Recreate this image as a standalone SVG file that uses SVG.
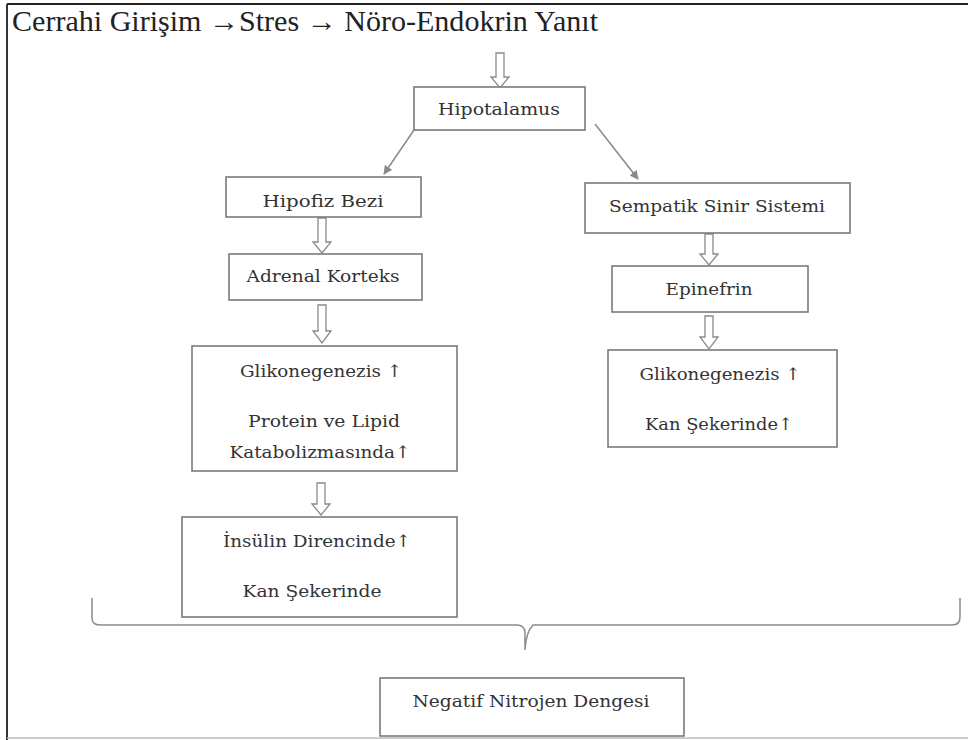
<svg xmlns="http://www.w3.org/2000/svg" width="968" height="740" viewBox="0 0 968 740">
<defs>
<style>
.box{fill:#fff;stroke:#7a7a7a;stroke-width:1.6}
.t{font-family:"DejaVu Serif","Liberation Serif",serif;font-size:17px;fill:#333}
.ha{fill:#fff;stroke:#8a8a8a;stroke-width:1.3}
.ln{stroke:#8a8a8a;stroke-width:1.5;fill:none}
</style>
<marker id="ah" viewBox="0 0 10 10" refX="9" refY="5" markerWidth="9" markerHeight="9" markerUnits="userSpaceOnUse" orient="auto">
<path d="M0,0 L10,5 L0,10 z" fill="#8a8a8a"/>
</marker>
</defs>
<rect x="0" y="0" width="968" height="740" fill="#fff"/>
<g id="frame">
<line x1="7" y1="4" x2="968" y2="4" stroke="#222" stroke-width="2"/>
<line x1="7" y1="4" x2="7" y2="740" stroke="#333" stroke-width="2"/>
<line x1="7" y1="738" x2="968" y2="738" stroke="#bbb" stroke-width="1.5"/>
</g>
<g id="title">
<text x="12" y="31" font-family="Liberation Serif, serif" font-size="29" fill="#222" textLength="586" lengthAdjust="spacingAndGlyphs">Cerrahi Girişim  →Stres → Nöro-Endokrin Yanıt</text>
</g>
<g id="connectors">
<path class="ha" d="M496,53 H504 V77 H509 L500,88 L491,77 H496 Z"/>
<line class="ln" x1="414" y1="130" x2="384" y2="174" marker-end="url(#ah)"/>
<line class="ln" x1="595" y1="124" x2="638" y2="179" marker-end="url(#ah)"/>
<path class="ha" d="M318,218 H326 V242 H331 L322,253 L313,242 H318 Z"/>
<path class="ha" d="M318,305 H326 V331 H331 L322,343 L313,331 H318 Z"/>
<path class="ha" d="M317,483 H325 V504 H330 L321,515 L312,504 H317 Z"/>
<path class="ha" d="M705,234 H713 V254 H718 L709,265 L700,254 H705 Z"/>
<path class="ha" d="M705,316 H713 V337 H718 L709,349 L700,337 H705 Z"/>
<path class="ln" stroke="#aaa" stroke-width="2" d="M92,598 V618 Q92,625 100,625 H517 Q524,625 525,632 V650 Q526,632 533,625 H952 Q960,625 960,617 V598"/>
</g>
<g id="hipotalamus">
<rect class="box" x="414" y="87" width="171" height="43"/>
<text class="t" x="499" y="115" text-anchor="middle" textLength="122" lengthAdjust="spacingAndGlyphs">Hipotalamus</text>
</g>
<g id="hipofiz">
<rect class="box" x="226" y="177" width="195" height="40"/>
<text class="t" x="323" y="207" text-anchor="middle" textLength="121" lengthAdjust="spacingAndGlyphs">Hipofiz Bezi</text>
</g>
<g id="adrenal">
<rect class="box" x="229" y="254" width="193" height="46"/>
<text class="t" x="323" y="282" text-anchor="middle" textLength="153" lengthAdjust="spacingAndGlyphs">Adrenal Korteks</text>
</g>
<g id="glik-left">
<rect class="box" x="192" y="346" width="265" height="125"/>
<text class="t" x="321" y="377" text-anchor="middle" textLength="162" lengthAdjust="spacingAndGlyphs">Glikonegenezis ↑</text>
<text class="t" x="324" y="427" text-anchor="middle" textLength="152" lengthAdjust="spacingAndGlyphs">Protein ve Lipid</text>
<text class="t" x="320" y="458" text-anchor="middle" textLength="181" lengthAdjust="spacingAndGlyphs">Katabolizmasında↑</text>
</g>
<g id="insulin">
<rect class="box" x="182" y="517" width="275" height="100"/>
<text class="t" x="317" y="547" text-anchor="middle" textLength="188" lengthAdjust="spacingAndGlyphs">İnsülin Direncinde↑</text>
<text class="t" x="312" y="597" text-anchor="middle" textLength="139" lengthAdjust="spacingAndGlyphs">Kan Şekerinde</text>
</g>
<g id="sempatik">
<rect class="box" x="585" y="183" width="265" height="50"/>
<text class="t" x="717" y="212" text-anchor="middle" textLength="216" lengthAdjust="spacingAndGlyphs">Sempatik Sinir Sistemi</text>
</g>
<g id="epinefrin">
<rect class="box" x="612" y="266" width="196" height="46"/>
<text class="t" x="709" y="295" text-anchor="middle" textLength="87" lengthAdjust="spacingAndGlyphs">Epinefrin</text>
</g>
<g id="glik-right">
<rect class="box" x="608" y="350" width="229" height="97"/>
<text class="t" x="720" y="380" text-anchor="middle" textLength="161" lengthAdjust="spacingAndGlyphs">Glikonegenezis ↑</text>
<text class="t" x="719" y="430" text-anchor="middle" textLength="148" lengthAdjust="spacingAndGlyphs">Kan Şekerinde↑</text>
</g>
<g id="negatif">
<rect class="box" x="380" y="678" width="304" height="58"/>
<text class="t" x="531" y="707" text-anchor="middle" textLength="237" lengthAdjust="spacingAndGlyphs">Negatif Nitrojen Dengesi</text>
</g>
</svg>
